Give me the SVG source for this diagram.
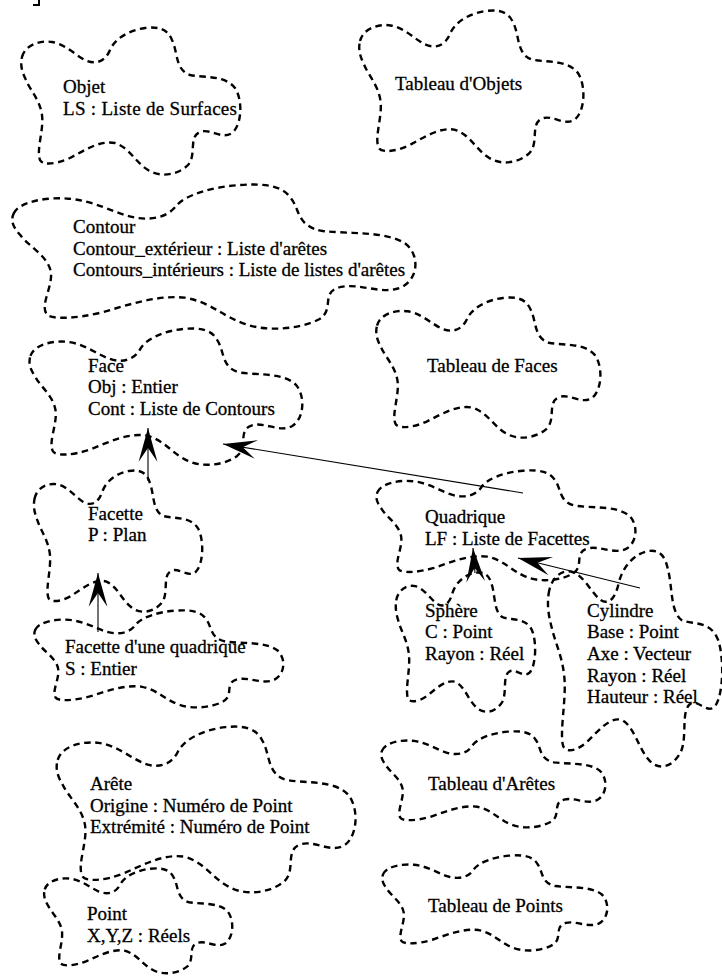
<svg xmlns="http://www.w3.org/2000/svg" xmlns:xlink="http://www.w3.org/1999/xlink" width="722" height="977" viewBox="0 0 722 977">
<style>
.blob{fill:none;stroke:#000;stroke-width:2.4;stroke-dasharray:6.5 4.5;vector-effect:non-scaling-stroke;stroke-linecap:butt}
text{font-family:"Liberation Serif","Times New Roman",serif;font-size:19px;fill:#000;stroke:#000;stroke-width:0.3}
.conn{stroke:#000;stroke-width:1.1;fill:none}
</style>
<defs>
<path id="blob" class="blob" d="M 2,30 C 5,18 20,13 32,15 C 45,17 55,28 65,33 C 75,38 85,35 90,23 C 95,11 110,3 125,1 C 140,-1 148,3 152,13 C 158,25 155,43 170,48 C 185,51 205,48 215,61 C 223,73 222,98 212,106 C 202,113 190,101 180,105 C 168,110 177,128 168,138 C 158,148 140,151 128,143 C 115,135 110,121 95,116 C 80,113 65,123 50,131 C 35,138 22,138 20,133 C 16,123 24,103 22,88 C 20,73 10,63 6,53 C 2,45 0,38 2,30 Z"/>
<marker id="arr" markerUnits="userSpaceOnUse" markerWidth="40" markerHeight="40" viewBox="-30 -10 32 20" refX="0" refY="0" orient="auto">
<path d="M0,0 L-27,-7.5 L-16,0 L-27,7.5 Z" fill="#000"/>
</marker>
</defs>
<path d="M33,5 H39 V0" fill="none" stroke="#000" stroke-width="2"/>
<g id="objet"><use xlink:href="#blob" transform="translate(20 27) scale(1 1)"/><text x="63" y="93">Objet</text><text x="63" y="115" textLength="174">LS : Liste de Surfaces</text></g>
<g id="tableau-objets"><use xlink:href="#blob" transform="translate(358 10) scale(1.023 1.033)"/><text x="395" y="90">Tableau d'Objets</text></g>
<g id="contour"><use xlink:href="#blob" transform="translate(10 184) scale(1.84 0.98)"/><text x="73" y="233">Contour</text><text x="73" y="255">Contour_extérieur : Liste d'arêtes</text><text x="73" y="276">Contours_intérieurs : Liste de listes d'arêtes</text></g>
<g id="face"><use xlink:href="#blob" transform="translate(28 328) scale(1.245 0.927)"/><text x="88" y="372">Face</text><text x="88" y="393">Obj : Entier</text><text x="88" y="415">Cont : Liste de Contours</text></g>
<g id="tableau-faces"><use xlink:href="#blob" transform="translate(375 297) scale(1.023 0.953)"/><text x="427" y="372">Tableau de Faces</text></g>
<g id="facette"><use xlink:href="#blob" transform="translate(33 470) scale(0.768 0.96)"/><text x="88" y="520">Facette</text><text x="88" y="541">P : Plan</text></g>
<g id="facette-quadrique"><use xlink:href="#blob" transform="translate(33 610) scale(1.136 0.66)"/><text x="65" y="653">Facette d'une quadrique</text><text x="65" y="675">S : Entier</text></g>
<g id="quadrique"><use xlink:href="#blob" transform="translate(375 470) scale(1.182 0.747)"/><text x="425" y="523">Quadrique</text><text x="425" y="545">LF : Liste de Facettes</text></g>
<g id="sphere"><use xlink:href="#blob" transform="translate(395 572) scale(0.636 0.947)"/><text x="425" y="617">Sphère</text><text x="425" y="638">C : Point</text><text x="425" y="660">Rayon : Réel</text></g>
<g id="cylindre"><use xlink:href="#blob" transform="translate(547 550) scale(0.795 1.467)"/><text x="587" y="617">Cylindre</text><text x="587" y="638">Base : Point</text><text x="587" y="660">Axe : Vecteur</text><text x="587" y="682">Rayon : Réel</text><text x="587" y="703">Hauteur : Réel</text></g>
<g id="arete"><use xlink:href="#blob" transform="translate(55 726) scale(1.364 1.127)"/><text x="90" y="790">Arête</text><text x="90" y="812">Origine : Numéro de Point</text><text x="90" y="833">Extrémité : Numéro de Point</text></g>
<g id="point"><use xlink:href="#blob" transform="translate(43 868) scale(0.859 0.713)"/><text x="87" y="920">Point</text><text x="87" y="942">X,Y,Z : Réels</text></g>
<g id="tableau-aretes"><use xlink:href="#blob" transform="translate(380 731) scale(1.023 0.653)"/><text x="428" y="790">Tableau d'Arêtes</text></g>
<g id="tableau-points"><use xlink:href="#blob" transform="translate(381 855) scale(1.027 0.647)"/><text x="428" y="912">Tableau de Points</text></g>
<g id="connectors">
<line class="conn" x1="148" y1="481" x2="148" y2="428" marker-end="url(#arr)"/>
<line class="conn" x1="98" y1="632" x2="98" y2="573" marker-end="url(#arr)"/>
<line class="conn" x1="523" y1="493" x2="223" y2="444" marker-end="url(#arr)"/>
<line class="conn" x1="475" y1="573" x2="473" y2="548" marker-end="url(#arr)"/>
<line class="conn" x1="640" y1="588" x2="518" y2="558" marker-end="url(#arr)"/>
</g>
</svg>
